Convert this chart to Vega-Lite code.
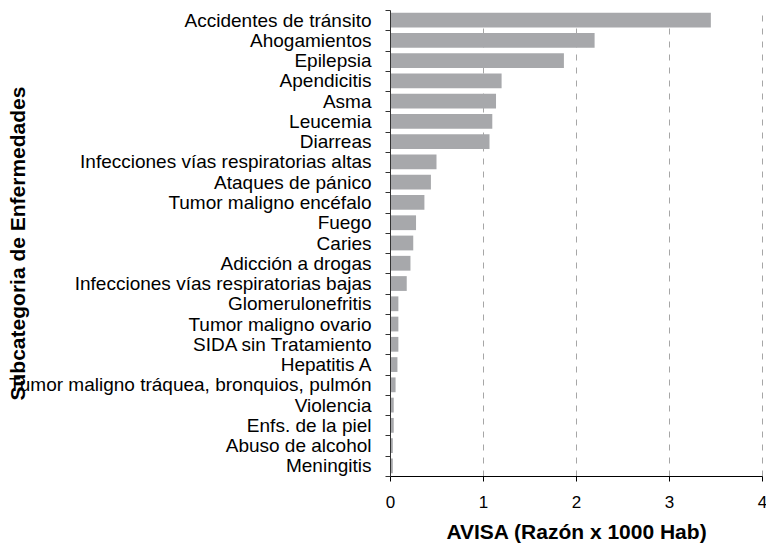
{
  "$schema": "https://vega.github.io/schema/vega-lite/v6.json",
  "autosize": {"type": "none"},
  "padding": {"left": 390, "top": 10, "right": 4, "bottom": 67},
  "width": 372,
  "height": 466,
  "background": "white",
  "config": {
    "view": {"stroke": null},
    "font": "Liberation Sans",
    "axis": {"labelFont": "Liberation Sans", "titleFont": "Liberation Sans", "labelColor": "black", "titleColor": "black"}
  },
  "data": {
    "values": [
      {"categoria": "Accidentes de tránsito", "avisa": 3.45},
      {"categoria": "Ahogamientos", "avisa": 2.20},
      {"categoria": "Epilepsia", "avisa": 1.87},
      {"categoria": "Apendicitis", "avisa": 1.20},
      {"categoria": "Asma", "avisa": 1.14},
      {"categoria": "Leucemia", "avisa": 1.10},
      {"categoria": "Diarreas", "avisa": 1.07},
      {"categoria": "Infecciones vías respiratorias altas", "avisa": 0.50},
      {"categoria": "Ataques de pánico", "avisa": 0.44},
      {"categoria": "Tumor maligno encéfalo", "avisa": 0.37},
      {"categoria": "Fuego", "avisa": 0.28},
      {"categoria": "Caries", "avisa": 0.25},
      {"categoria": "Adicción a drogas", "avisa": 0.22},
      {"categoria": "Infecciones vías respiratorias bajas", "avisa": 0.18},
      {"categoria": "Glomerulonefritis", "avisa": 0.09},
      {"categoria": "Tumor maligno ovario", "avisa": 0.09},
      {"categoria": "SIDA sin Tratamiento", "avisa": 0.09},
      {"categoria": "Hepatitis A", "avisa": 0.08},
      {"categoria": "Tumor maligno tráquea, bronquios, pulmón", "avisa": 0.06},
      {"categoria": "Violencia", "avisa": 0.04},
      {"categoria": "Enfs. de la piel", "avisa": 0.04},
      {"categoria": "Abuso de alcohol", "avisa": 0.03},
      {"categoria": "Meningitis", "avisa": 0.03}
    ]
  },
  "mark": {"type": "bar", "color": "#a7a8ab", "height": {"band": 0.73}},
  "encoding": {
    "y": {
      "field": "categoria",
      "type": "nominal",
      "sort": null,
      "scale": {"paddingInner": 0, "paddingOuter": 0},
      "axis": {
        "title": "Subcategoria de Enfermedades",
        "titleFontSize": 21,
        "titleFontWeight": "bold",
        "titleAngle": -90,
        "titleX": -372,
        "titleY": 233,
        "titleAlign": "center",
        "titleBaseline": "middle",
        "labelFontSize": 19,
        "labelPadding": 14,
        "labelLimit": 0,
        "tickBand": "extent",
        "tickSize": 5,
        "tickColor": "#333333",
        "domainColor": "#333333",
        "grid": false,
        "zindex": 1
      }
    },
    "x": {
      "field": "avisa",
      "type": "quantitative",
      "scale": {"domain": [0, 4], "nice": false},
      "axis": {
        "title": "AVISA (Razón x 1000 Hab)",
        "titleFontSize": 21,
        "titleFontWeight": "bold",
        "titleX": 186,
        "titleY": 62,
        "titleAlign": "center",
        "titleBaseline": "alphabetic",
        "values": [0, 1, 2, 3, 4],
        "format": "d",
        "labelFontSize": 17,
        "labelPadding": 13,
        "labelFlush": false,
        "tickSize": 5,
        "tickColor": "black",
        "domainColor": "black",
        "grid": true,
        "gridDash": [6, 7],
        "gridColor": "#a6a6a6",
        "gridWidth": 1
      }
    }
  }
}
